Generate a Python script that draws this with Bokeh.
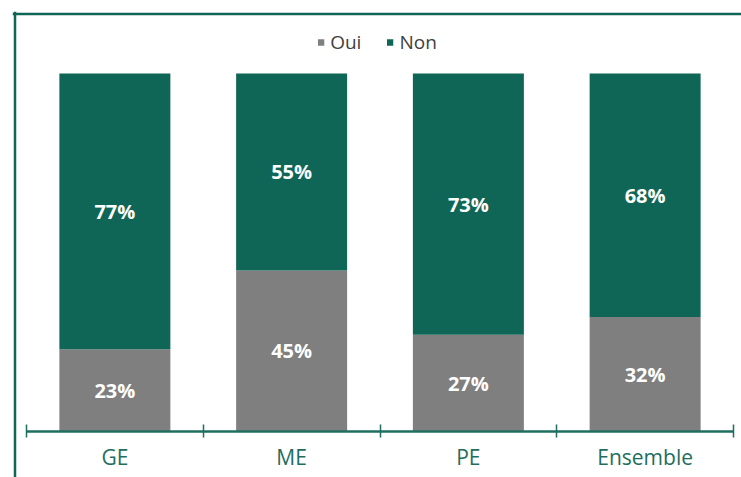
from bokeh.plotting import figure
from bokeh.models import ColumnDataSource, Range1d, FixedTicker, Span
from bokeh.core.properties import value
from bokeh.embed import file_html
from bokeh.resources import INLINE

categories = ["GE", "ME", "PE", "Ensemble"]
oui = [23, 45, 27, 32]
non = [77, 55, 73, 68]
series = ["Oui", "Non"]

GREEN = "#106656"
GRAY = "#7f7f7f"
AXIS = "#1e6e60"
FONT = "Open Sans"

W, H = 741, 477
# pixel layout (canvas coords)
FRAME_L, FRAME_T = 12, 11
AX_L, AX_R = 26, 733          # axis span (category 0 .. n)
Y0_PX, Y100_PX = 431, 73      # baseline and 100 % level
BOX_L, BOX_T = 14.5, 13.5     # outer decorative frame lines

n = len(categories)
sx = (AX_R - AX_L) / n
sy = (Y0_PX - Y100_PX) / 100.0
x_start = (FRAME_L - AX_L) / sx
x_end = n + (W - AX_R) / sx
y_end = (Y0_PX - FRAME_T) / sy
y_start = -(H - Y0_PX) / sy

xc = [i + 0.5 for i in range(n)]
src = ColumnDataSource(dict(x=xc, Oui=oui, Non=non))

p = figure(width=W, height=H, x_range=Range1d(x_start, x_end),
           y_range=Range1d(y_start, y_end), output_backend="svg", toolbar_location=None,
           min_border_left=FRAME_L, min_border_right=0, min_border_top=FRAME_T,
           min_border_bottom=0, y_axis_location=None)
p.outline_line_color = None
p.grid.visible = False

p.vbar_stack(series, x="x", width=0.628, source=src, color=[GRAY, GREEN],
             line_color=None, legend_label=series)

# value labels
lx = xc + xc
ly = [o / 2 for o in oui] + [o + v / 2 for o, v in zip(oui, non)]
lt = [f"{v}%" for v in oui] + [f"{v}%" for v in non]
lsrc = ColumnDataSource(dict(x=lx, y=ly, t=lt))
p.text(x="x", y="y", text="t", source=lsrc, text_align="center", text_baseline="middle",
       text_color="white", text_font=value(FONT), text_font_style="bold", text_font_size="20px")

ax = p.xaxis[0]
ax.fixed_location = 0
ax.bounds = (0, n)
ax.ticker = FixedTicker(ticks=xc, minor_ticks=list(range(n + 1)))
ax.major_label_overrides = {x: c for x, c in zip(xc, categories)}
ax.major_tick_line_color = None
ax.major_tick_in = 0
ax.major_tick_out = 6
ax.minor_tick_in = 7
ax.minor_tick_out = 6
ax.minor_tick_line_color = AXIS
ax.minor_tick_line_width = 1.5
ax.axis_line_color = AXIS
ax.axis_line_width = 2.5
ax.major_label_standoff = 5
ax.major_label_text_font = FONT
ax.major_label_text_font_size = "21px"
ax.major_label_text_color = AXIS

# decorative outer frame (left and top edges)
p.add_layout(Span(location=(BOX_L - AX_L) / sx, dimension="height",
                  line_color=GREEN, line_width=2.5))
p.add_layout(Span(location=(Y0_PX - BOX_T) / sy, dimension="width",
                  line_color=GREEN, line_width=2.5))

lg = p.legend[0]
lg.location = "top_center"
lg.orientation = "horizontal"
lg.border_line_color = None
lg.background_fill_alpha = 0
lg.glyph_width = 8
lg.glyph_height = 8
lg.label_text_font = FONT
lg.label_text_font_size = "19px"
lg.label_text_color = "#404040"
lg.label_standoff = 6
lg.spacing = 24
lg.margin = 18
lg.padding = 18

open("out.html", "w").write(file_html(p, INLINE))
